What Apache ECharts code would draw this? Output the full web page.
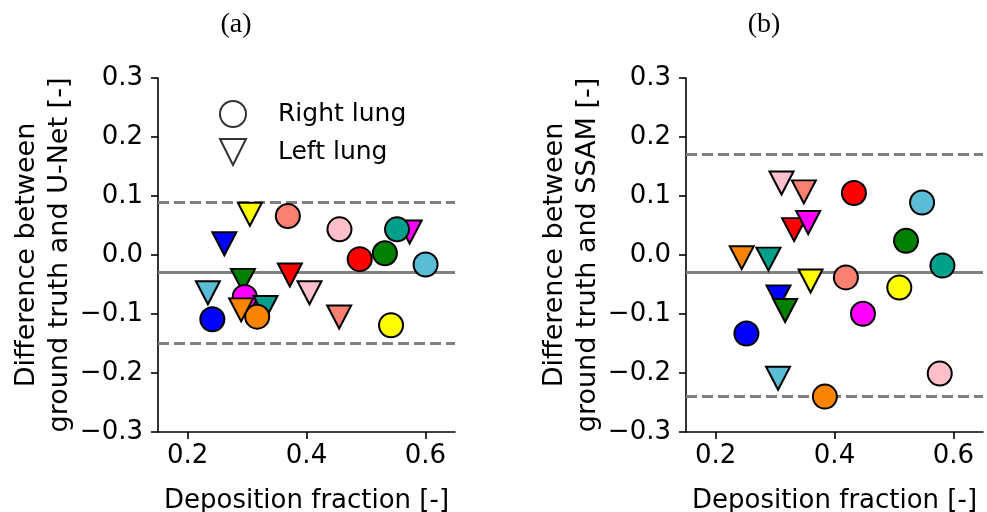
<!DOCTYPE html>
<html>
<head>
<meta charset="utf-8">
<script src="https://cdn.jsdelivr.net/npm/echarts@6/dist/echarts.min.js"></script>
<style>
html,body{margin:0;padding:0;background:#fff;}
#chart{width:987px;height:512px;}
</style>
</head>
<body>
<div id="chart"></div>
<script>
// ---- data ----
const patientColors = ['#0000FF','#008000','#FFC0CB','#FF0000','#FF00FF','#00A08A','#FA8072','#F98400','#FFFF00','#5BBCD6'];

// Panel (a): U-Net
const rightXA = [0.2415, 0.532, 0.4555, 0.4896, 0.296, 0.5524, 0.3686, 0.317, 0.5423, 0.6005];
const rightYA = [-0.109, 0.003, 0.0435, -0.007, -0.071, 0.0435, 0.066, -0.1045, -0.119, -0.016];
const leftXA  = [0.2617, 0.293, 0.405, 0.372, 0.5737, 0.331, 0.455, 0.290, 0.3047, 0.234];
const leftYA  = [0.019, -0.043, -0.064, -0.034, 0.039, -0.089, -0.105, -0.093, 0.069, -0.064];
const meanA = -0.032, upperA = 0.089, lowerA = -0.153;

// Panel (b): SSAM
const rightXB = [0.2517, 0.5204, 0.5772, 0.4327, 0.4479, 0.5817, 0.4192, 0.3838, 0.5091, 0.5474];
const rightYB = [-0.133, 0.024, -0.201, 0.105, -0.0995, -0.018, -0.038, -0.240, -0.055, 0.089];
const leftXB  = [0.3057, 0.3169, 0.3108, 0.332, 0.3557, 0.2888, 0.3484, 0.2438, 0.3597, 0.305];
const leftYB  = [-0.071, -0.094, 0.122, 0.043, 0.055, -0.007, 0.107, -0.0045, -0.044, -0.209];
const meanB = -0.034, upperB = 0.171, lowerB = -0.239;

const xTicks = [0.2, 0.4, 0.6];
const yTicks = [-0.3, -0.2, -0.1, 0.0, 0.1, 0.2, 0.3];
const xName = 'Deposition fraction [-]';
const yNameA = 'Difference between\nground truth and U-Net [-]';
const yNameB = 'Difference between\nground truth and SSAM [-]';
const panelTitles = ['(a)', '(b)'];
const legendNames = ['Right lung', 'Left lung'];

// ---- chart ----
const FONT = 'DejaVu Sans';
const FS = 26;
const TRI = 'path://M0,0L2,0L1,2Z';
const chart = echarts.init(document.getElementById('chart'), null, {renderer:'canvas'});

function fmt(v){ const s = (Math.round(v*10)/10).toFixed(1); return s.replace('-', '\u2212'); }

function xAxis(idx){
  return {
    type:'value', gridIndex: idx, min:0.15, max:0.65,
    name: xName, nameLocation:'middle', nameGap: 56, nameMoveOverlap:false,
    nameTextStyle:{fontFamily:FONT, fontSize:FS, color:'#000'},
    axisLine:{show:true, onZero:false, lineStyle:{color:'#000', width:1.6}},
    axisTick:{show:true, length:7, lineStyle:{color:'#000', width:1.6}, customValues: xTicks},
    axisLabel:{fontFamily:FONT, fontSize:FS, color:'#000', margin:11, customValues: xTicks, formatter: fmt},
    splitLine:{show:false}
  };
}
function yAxis(idx, name, gap){
  return {
    type:'value', gridIndex: idx, min:-0.3, max:0.3,
    name: name, nameLocation:'middle', nameGap: gap, nameRotate: 90, nameMoveOverlap:false,
    nameTextStyle:{fontFamily:FONT, fontSize:27, color:'#000', lineHeight:32.5, align:'center'},
    axisLine:{show:true, onZero:false, lineStyle:{color:'#000', width:1.6}},
    axisTick:{show:true, length:7, lineStyle:{color:'#000', width:1.6}, customValues: yTicks},
    axisLabel:{fontFamily:FONT, fontSize:FS, color:'#000', margin:15, customValues: yTicks, formatter: fmt},
    splitLine:{show:false}
  };
}

const series = [];
function refLines(idx, mean, upper, lower){
  series.push({
    type:'line', xAxisIndex: idx, yAxisIndex: idx, data: [], silent:true, z:1,
    markLine:{
      silent:true, symbol:['none','none'], z:1, label:{show:false},
      animation:false,
      data:[
        {yAxis: upper, lineStyle:{type:[11,5], color:'#808080', width:3}},
        {yAxis: mean, lineStyle:{type:'solid', color:'#808080', width:3}},
        {yAxis: lower, lineStyle:{type:[11,5], color:'#808080', width:3}}
      ]
    }
  });
}
refLines(0, meanA, upperA, lowerA);
refLines(1, meanB, upperB, lowerB);

function patientSeries(idx, rx, ry, lx, ly){
  patientColors.forEach(function(c, i){
    series.push({
      type:'scatter', xAxisIndex: idx, yAxisIndex: idx, z: 3, silent:true,
      itemStyle:{color:c, borderColor:'#000', borderWidth:2, opacity:1},
      data:[
        {value:[rx[i], ry[i]], symbol:'circle', symbolSize:24},
        {value:[lx[i], ly[i]], symbol:TRI, symbolSize:[24,23]}
      ]
    });
  });
}
patientSeries(0, rightXA, rightYA, leftXA, leftYA);
patientSeries(1, rightXB, rightYB, leftXB, leftYB);

// dummy series for legend
series.push({type:'scatter', name: legendNames[0], xAxisIndex:0, yAxisIndex:0, data:[], symbol:'circle',
  itemStyle:{color:'#fff', borderColor:'#000', borderWidth:2}});
series.push({type:'scatter', name: legendNames[1], xAxisIndex:0, yAxisIndex:0, data:[], symbol:TRI,
  itemStyle:{color:'#fff', borderColor:'#000', borderWidth:2}});

chart.setOption({
  animation:false,
  backgroundColor:'#fff',
  title:[
    {text: panelTitles[0], left: 231, top: 6, textAlign:'center',
     textStyle:{fontFamily:'Liberation Serif', fontSize:28, fontWeight:'normal', color:'#000'}},
    {text: panelTitles[1], left: 759, top: 6, textAlign:'center',
     textStyle:{fontFamily:'Liberation Serif', fontSize:28, fontWeight:'normal', color:'#000'}}
  ],
  legend:{
    orient:'vertical', left: 219, top: 100, padding:0, itemWidth: 26, itemHeight: 26, itemGap: 10,
    selectedMode:false,
    textStyle:{fontFamily:FONT, fontSize:25, color:'#000', padding:[0,0,0,27]},
    data:[
      {name: legendNames[0], icon:'circle', itemStyle:{color:'#fff', borderColor:'#000', borderWidth:2}},
      {name: legendNames[1], icon:TRI, itemStyle:{color:'#fff', borderColor:'#000', borderWidth:2}}
    ]
  },
  grid:[
    {left:158, top:78, width:297, height:354, outerBoundsMode:'none', containLabel:false},
    {left:686, top:78, width:297, height:354, outerBoundsMode:'none', containLabel:false}
  ],
  xAxis:[xAxis(0), xAxis(1)],
  yAxis:[yAxis(0, yNameA, 82), yAxis(1, yNameB, 82)],
  series: series
});
</script>
</body>
</html>
